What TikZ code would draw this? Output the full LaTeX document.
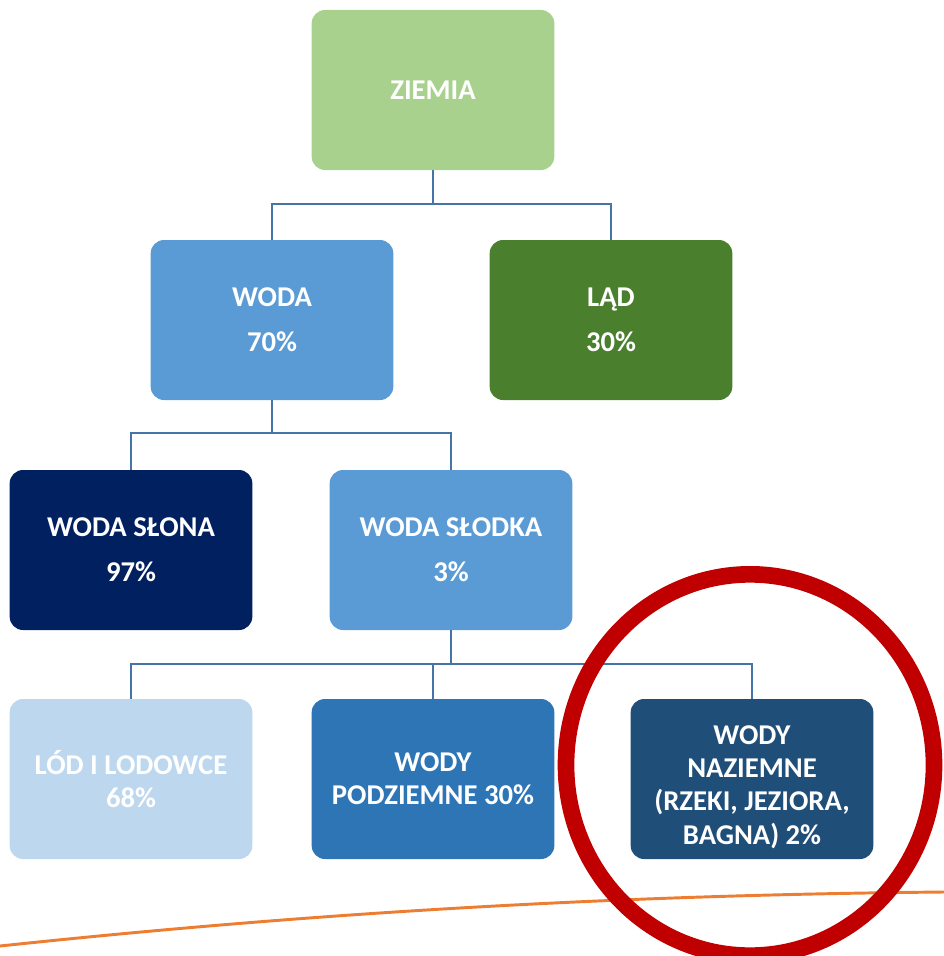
\documentclass[tikz,border=0pt]{standalone}
\usepackage{fontspec}
\setmainfont{Carlito}
\usepackage{xcolor}
\definecolor{ziemiaGreen}{HTML}{A9D18E}
\definecolor{ladGreen}{HTML}{4A7F2E}
\definecolor{wodaBlue}{HTML}{5B9BD5}
\definecolor{slonaNavy}{HTML}{002060}
\definecolor{lodLight}{HTML}{BDD7EE}
\definecolor{podBlue}{HTML}{2E75B6}
\definecolor{nazDark}{HTML}{1F4E79}
\definecolor{linkBlue}{HTML}{4575A6}
\definecolor{markRed}{HTML}{C00000}
\definecolor{lineOrange}{HTML}{ED7D31}
\usetikzlibrary{positioning,calc}
\tikzset{
    box/.style={
        rectangle,
        rounded corners=10pt,
        align=center,
        minimum width=182pt,
        minimum height=120pt,
        text=white,
        font=\fontsize{21.5}{25}\selectfont\bfseries
    },
    link/.style={
        draw=linkBlue,
        line width=1.8pt
    }
}

\begin{document}
\begin{tikzpicture}[x=0.75pt,y=-0.75pt]
    \clip (0,0) rectangle (944,956);

    % Level 0
    \node[box, fill=ziemiaGreen] (ziemia) at (433,90) {ZIEMIA};

    % Level 1
    \node[box, fill=wodaBlue] (woda) at (272,320) {WODA\\[9pt]70\%};
    \node[box, fill=ladGreen] (lad) at (611,320) {LĄD\\[9pt]30\%};

    % Level 2
    \node[box, fill=slonaNavy] (slona) at (131,550) {WODA SŁONA\\[9pt]97\%};
    \node[box, fill=wodaBlue] (slodka) at (451,550) {WODA SŁODKA\\[9pt]3\%};

    % Level 3
    \node[box, fill=lodLight] (lod) at (131,779) {LÓD I LODOWCE\\68\%};
    \node[box, fill=podBlue] (podziemne) at (433,779) {WODY\\PODZIEMNE 30\%};
    \node[box, fill=nazDark] (naziemne) at (752,779) {\rule{0pt}{26pt}WODY\\NAZIEMNE\\(RZEKI, JEZIORA,\\BAGNA) 2\%};

    % Connections
    \draw[link] (ziemia.south) -- ++(0,34) coordinate (j1);
    \draw[link] (woda.north) |- (j1) -| (lad.north);
    \draw[link] (woda.south) -- ++(0,33) coordinate (j2);
    \draw[link] (slona.north) |- (j2) -| (slodka.north);
    \draw[link] (slodka.south) -- ++(0,34) coordinate (j3);
    \draw[link] (lod.north) |- (j3) -| (naziemne.north);
    \draw[link] (podziemne.north) -- (podziemne.north |- j3);

    % Highlight
    \draw[lineOrange, line width=2.2pt] (0,946) .. controls (320,912) and (620,895) .. (944,892);
    \draw[markRed, line width=12.5pt] (750,765) ellipse [x radius=138pt, y radius=143pt];
\end{tikzpicture}
\end{document}
